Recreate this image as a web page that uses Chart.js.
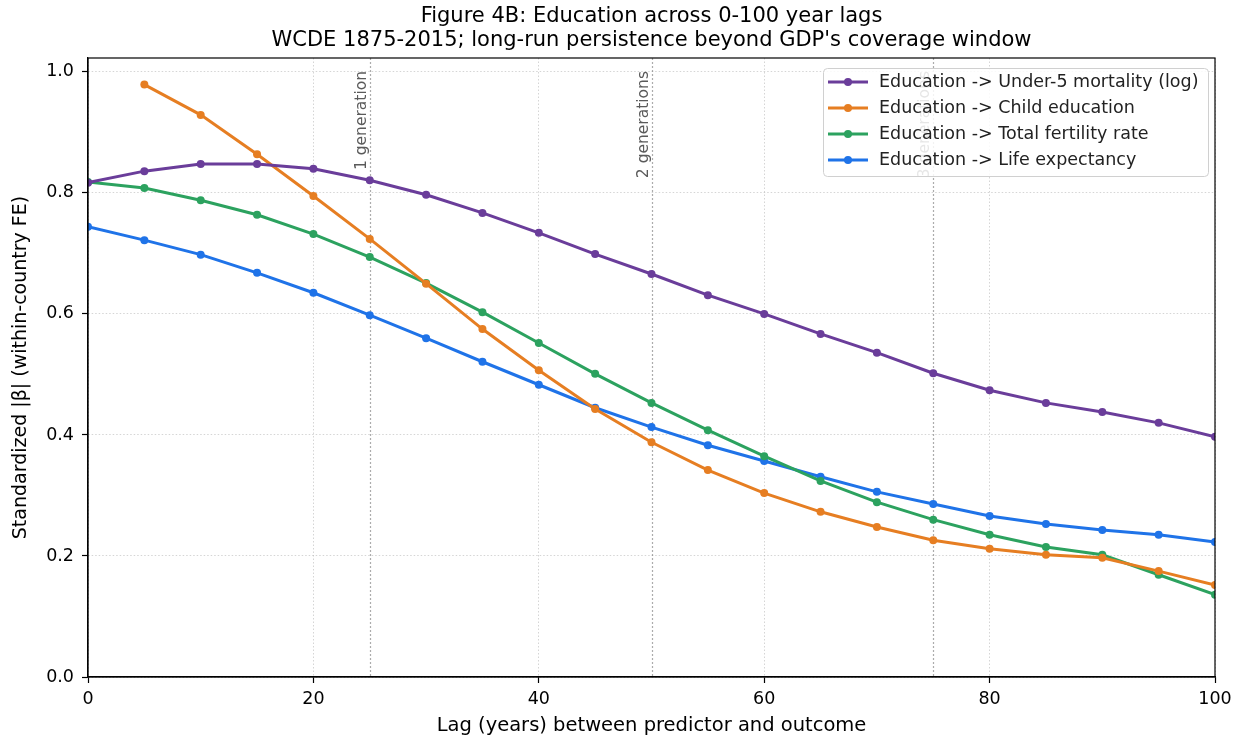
<!DOCTYPE html>
<html><head><meta charset="utf-8">
<script src="https://cdn.jsdelivr.net/npm/chart.js@4"></script>
<style>html,body{margin:0;padding:0;background:#fff}</style>
</head><body>
<canvas id="c" width="1242" height="740"></canvas>
<script>
const lags = [0,5,10,15,20,25,30,35,40,45,50,55,60,65,70,75,80,85,90,95,100];
const under5 = [0.817,0.836,0.848,0.848,0.840,0.821,0.797,0.767,0.734,0.699,0.666,0.631,0.600,0.567,0.536,0.502,0.474,0.453,0.438,0.420,0.397];
const childEdu = [null,0.979,0.929,0.864,0.795,0.724,0.650,0.575,0.507,0.443,0.388,0.342,0.304,0.273,0.248,0.226,0.212,0.202,0.197,0.175,0.152];
const tfr = [0.818,0.808,0.788,0.764,0.732,0.694,0.651,0.603,0.552,0.501,0.453,0.408,0.365,0.324,0.289,0.260,0.235,0.215,0.202,0.169,0.136];
const lifeExp = [0.744,0.722,0.698,0.668,0.635,0.598,0.560,0.521,0.483,0.445,0.413,0.383,0.357,0.331,0.306,0.286,0.266,0.253,0.243,0.235,0.223];
const seriesLabels = ['Education -> Under-5 mortality (log)','Education -> Child education','Education -> Total fertility rate','Education -> Life expectancy'];
const seriesColors = ['#6a3d9a','#e67e22','#2ca25f','#1f73e8'];
const generationLags = [25,50,75];
const generationLabels = ['1 generation','2 generations','3 generations'];
const titleLines = ['Figure 4B: Education across 0-100 year lags',"WCDE 1875-2015; long-run persistence beyond GDP's coverage window"];

const FONT = '"DejaVu Sans", sans-serif';
const allSeries = [under5, childEdu, tfr, lifeExp];
const datasets = allSeries.map((vals, i) => ({
  label: seriesLabels[i],
  data: lags.map((x, j) => ({x: x, y: vals[j]})),
  borderColor: seriesColors[i],
  backgroundColor: seriesColors[i],
  borderWidth: 3,
  pointRadius: 4,
  pointHoverRadius: 4,
  pointBorderWidth: 0,
  spanGaps: false,
  tension: 0,
  clip: 0
}));

const refLinesPlugin = {
  id: 'refLines',
  beforeDatasetsDraw(chart) {
    const {ctx, chartArea: a, scales: {x}} = chart;
    ctx.save();
    generationLags.forEach((g, i) => {
      const px = Math.round(x.getPixelForValue(g)) + 0.5;
      ctx.strokeStyle = 'rgba(128,128,128,0.65)';
      ctx.lineWidth = 1.2;
      ctx.setLineDash([2, 2]);
      ctx.beginPath(); ctx.moveTo(px, a.top); ctx.lineTo(px, a.bottom); ctx.stroke();
      ctx.setLineDash([]);
      ctx.translate(px - 1, a.top + 13);
      ctx.rotate(-Math.PI / 2);
      ctx.fillStyle = '#5a5a5a';
      ctx.font = '15.5px ' + FONT;
      ctx.textAlign = 'right';
      ctx.textBaseline = 'bottom';
      ctx.fillText(generationLabels[i], 0, 0);
      ctx.setTransform(1, 0, 0, 1, 0, 0);
    });
    ctx.restore();
  }
};

const framePlugin = {
  id: 'frame',
  afterDatasetsDraw(chart) {
    const {ctx, chartArea: a} = chart;
    ctx.save();
    ctx.strokeStyle = '#000';
    ctx.lineWidth = 1.2;
    ctx.strokeRect(a.left, a.top, a.right - a.left, a.bottom - a.top);
    // legend
    const lx = 823, ly = 68, lw = 385, lh = 108;
    ctx.fillStyle = 'rgba(255,255,255,0.85)';
    ctx.strokeStyle = '#d0d0d0';
    ctx.lineWidth = 1;
    ctx.beginPath();
    ctx.roundRect(lx + 0.5, ly + 0.5, lw, lh, 4);
    ctx.fill(); ctx.stroke();
    ctx.font = '17.5px ' + FONT;
    ctx.textBaseline = 'middle';
    ctx.textAlign = 'left';
    seriesLabels.forEach((lab, i) => {
      const yy = ly + 14 + i * 26;
      ctx.strokeStyle = seriesColors[i];
      ctx.lineWidth = 3;
      ctx.beginPath(); ctx.moveTo(lx + 5, yy); ctx.lineTo(lx + 45, yy); ctx.stroke();
      ctx.fillStyle = seriesColors[i];
      ctx.beginPath(); ctx.arc(lx + 25, yy, 4, 0, Math.PI * 2); ctx.fill();
      ctx.fillStyle = '#222';
      ctx.fillText(lab, lx + 56, yy);
    });
    ctx.restore();
  },
  afterDraw(chart) {
    const {ctx, chartArea: a} = chart;
    ctx.save();
    ctx.fillStyle = '#000';
    ctx.font = '21px ' + FONT;
    ctx.textAlign = 'center';
    ctx.textBaseline = 'middle';
    const cx = (a.left + a.right) / 2;
    ctx.fillText(titleLines[0], cx, 17);
    ctx.fillText(titleLines[1], cx, 41);
    ctx.restore();
  }
};

new Chart(document.getElementById('c'), {
  type: 'line',
  data: {datasets},
  options: {
    responsive: false,
    devicePixelRatio: 1,
    animation: false,
    layout: {padding: {top: 58, right: 27, bottom: 0, left: 0}},
    plugins: {legend: {display: false}, tooltip: {enabled: false}, title: {display: false}},
    scales: {
      x: {
        type: 'linear', min: 0, max: 100,
        afterFit(s) { s.height = 63; },
        ticks: {stepSize: 20, color: '#000', font: {family: FONT, size: 17.5}, padding: 6, maxRotation: 0},
        grid: {color: 'rgba(180,180,180,0.7)', lineWidth: 0.8, tickLength: 6, tickColor: '#000', tickWidth: 1.2, tickBorderDash: []},
        border: {display: true, color: '#000', width: 1.2, dash: [1.5, 2]},
        title: {display: true, text: 'Lag (years) between predictor and outcome', color: '#000', font: {family: FONT, size: 19.5}, padding: {top: 2, bottom: 2}}
      },
      y: {
        type: 'linear', min: 0, max: 1.023,
        afterFit(s) { s.width = 88; },
        afterBuildTicks(s) { s.ticks = [0, 0.2, 0.4, 0.6, 0.8, 1.0].map(v => ({value: v})); },
        ticks: {color: '#000', font: {family: FONT, size: 17.5}, padding: 8, callback: v => v.toFixed(1)},
        grid: {color: 'rgba(180,180,180,0.7)', lineWidth: 0.8, tickLength: 6, tickColor: '#000', tickWidth: 1.2, tickBorderDash: []},
        border: {display: true, color: '#000', width: 1.2, dash: [1.5, 2]},
        title: {display: true, text: 'Standardized |β| (within-country FE)', color: '#000', font: {family: FONT, size: 19}, padding: {top: 10, bottom: 4}}
      }
    }
  },
  plugins: [refLinesPlugin, framePlugin]
});
</script>
</body></html>
